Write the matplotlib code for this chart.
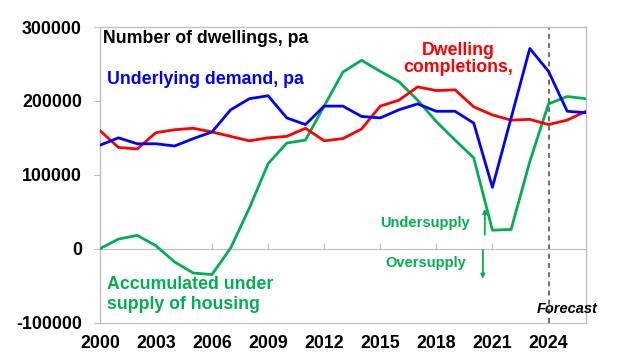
import matplotlib
matplotlib.use("Agg")
import matplotlib.pyplot as plt

plt.rcParams['font.family'] = ['Liberation Sans', 'DejaVu Sans']

years = list(range(2000, 2027))
demand = [140000, 150000, 142000, 142000, 139000, 149000, 158000, 188000, 203000, 207000,
          177000, 168000, 193000, 193000, 179000, 177000, 188000, 196000, 186000, 186000,
          170000, 83000, 177000, 271000, 240000, 186000, 184000]
completions = [160000, 137000, 135000, 157000, 161000, 163000, 158000, 152000, 146000, 150000,
               152000, 163000, 146000, 149000, 162000, 193000, 201000, 219000, 214000, 215000,
               192000, 181000, 174000, 175000, 168000, 174000, 186000]
accumulated = [0, 13000, 18000, 4000, -18000, -33000, -35000, 1000, 55000, 115000,
               143000, 147000, 193000, 239000, 255000, 240000, 226000, 201000, 172000, 147000,
               123000, 25000, 26000, 118000, 196000, 206000, 203000]
xticks = [2000, 2003, 2006, 2009, 2012, 2015, 2018, 2021, 2024]
yticks = [-100000, 0, 100000, 200000, 300000]
forecast_year = 2024

BLUE = '#0000FF'
RED = '#FF0000'
GREEN = '#00B050'
GRAY = '#BFBFBF'

fig = plt.figure(figsize=(6.2, 3.56), dpi=100)
ax = fig.add_axes([0.161, 0.094, 0.784, 0.830])

lw = 2.0
ax.plot(years, accumulated, color=GREEN, lw=lw, zorder=3)
ax.plot(years, completions, color=RED, lw=lw, zorder=4)
ax.plot(years, demand, color=BLUE, lw=lw, zorder=5)

ax.set_xlim(2000, 2026)
ax.set_ylim(-100000, 300000)
ax.set_yticks(yticks)
ax.set_yticklabels([str(v) for v in yticks], fontsize=12.8, fontweight='bold')

# x axis line at zero with upward ticks
ax.spines['bottom'].set_position(('data', 0))
ax.spines['bottom'].set_color(GRAY)
ax.set_xticks(xticks)
ax.tick_params(axis='x', direction='in', length=4, color=GRAY, labelbottom=False)
ax.tick_params(axis='y', direction='out', length=4, color=GRAY, pad=9)
for s in ['left', 'top', 'right']:
    ax.spines[s].set_color(GRAY)
    ax.spines[s].set_linewidth(1.0)

sec = ax.secondary_xaxis('bottom')
sec.set_xticks(xticks)
sec.set_xticklabels([str(x) for x in xticks], fontsize=12.8, fontweight='bold')
sec.tick_params(length=0, pad=9)
sec.spines['bottom'].set_color(GRAY)

ax.axvline(forecast_year, color='#555555', lw=1.2, ls=(0, (3, 2.5)), zorder=2)

tr = ax.transAxes
ax.text(0.006, 0.962, 'Number of dwellings, pa', transform=tr, fontsize=12.8,
        fontweight='bold', color='black', va='center', ha='left')
ax.text(0.014, 0.822, 'Underlying demand, pa', transform=tr, fontsize=12.8,
        fontweight='bold', color=BLUE, va='center', ha='left')
ax.text(0.737, 0.922, 'Dwelling', transform=tr, fontsize=12.8,
        fontweight='bold', color=RED, va='center', ha='center')
ax.text(0.737, 0.862, 'completions,', transform=tr, fontsize=12.8,
        fontweight='bold', color=RED, va='center', ha='center')
ax.text(0.014, 0.128, 'Accumulated under', transform=tr, fontsize=12.8,
        fontweight='bold', color=GREEN, va='center', ha='left')
ax.text(0.014, 0.060, 'supply of housing', transform=tr, fontsize=12.8,
        fontweight='bold', color=GREEN, va='center', ha='left')
ax.text(0.761, 0.337, 'Undersupply', transform=tr, fontsize=10.5,
        fontweight='bold', color=GREEN, va='center', ha='right')
ax.text(0.753, 0.202, 'Oversupply', transform=tr, fontsize=10.5,
        fontweight='bold', color=GREEN, va='center', ha='right')
ax.text(0.898, 0.047, 'Forecast', transform=tr, fontsize=10.5,
        fontweight='bold', fontstyle='italic', color='black', va='center', ha='left',
        clip_on=False)

ax.annotate('', xy=(0.792, 0.385), xytext=(0.792, 0.297), xycoords=tr, textcoords=tr,
            arrowprops=dict(arrowstyle='-|>', color=GREEN, lw=1.3,
                            mutation_scale=6, shrinkA=0, shrinkB=0))
ax.annotate('', xy=(0.788, 0.148), xytext=(0.788, 0.246), xycoords=tr, textcoords=tr,
            arrowprops=dict(arrowstyle='-|>', color=GREEN, lw=1.3,
                            mutation_scale=6, shrinkA=0, shrinkB=0))

fig.savefig('out.png', dpi=100)
